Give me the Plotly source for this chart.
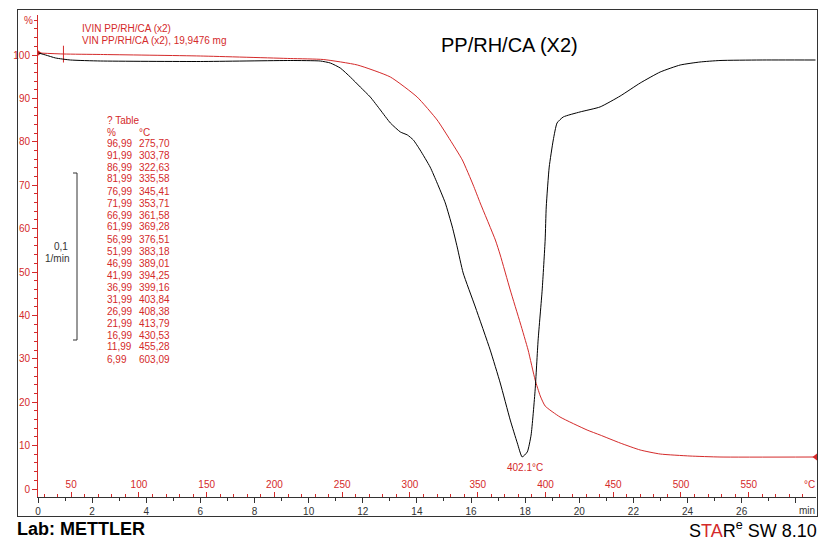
import plotly.graph_objects as go

# ---------------- data ----------------
# TGA curve: time (min) vs mass (%)
time_tga = [0.02, 0.94, 2.31, 6.00, 9.32, 10.54, 11.80, 13.02, 14.01, 14.75, 15.23, 15.68,
            16.08, 16.34, 16.90, 17.08, 17.45, 17.82, 18.11, 18.37, 18.56, 18.74, 19.29,
            20.29, 20.77, 21.51, 22.25, 22.99, 24.09, 25.20, 28.73]
tga_pct = [100.46, 100.23, 100.12, 99.77, 99.19, 98.96, 97.70, 94.93, 90.32, 85.02, 80.41, 75.81,
           70.05, 65.90, 57.37, 53.92, 45.85, 38.25, 32.03, 25.12, 21.43, 19.12, 16.59,
           13.59, 12.44, 10.60, 8.99, 8.06, 7.60, 7.37, 7.37]

# DTG curve: time (min) vs rate (1/min)
time_dtg = [0.02, 0.28, 0.65, 1.20, 2.31, 6.00, 9.32, 10.43, 10.80, 11.17, 11.54, 11.91, 12.28,
            12.65, 13.02, 13.39, 13.65, 13.87, 14.12, 14.49, 14.75, 15.05, 15.31, 15.49, 15.71,
            16.16, 16.71, 17.08, 17.45, 17.71, 17.89, 18.08, 18.22, 18.37, 18.48, 18.63, 18.74,
            18.78, 18.89, 19.04, 19.18, 19.41, 20.03, 20.77, 21.51, 22.25, 22.99, 23.73, 24.46,
            25.20, 26.68, 28.73]
dtg_rate = [0.0042, 0.0030, 0.0012, 0.0, -0.0006, -0.0009, -0.0003, -0.0006, -0.0018, -0.0048,
            -0.0102, -0.0162, -0.0222, -0.0299, -0.0377, -0.0431, -0.0449, -0.0479, -0.0539,
            -0.0641, -0.0737, -0.0856, -0.1000, -0.1120, -0.1275, -0.1479, -0.1737, -0.1934,
            -0.2156, -0.2293, -0.2377, -0.2347, -0.2246, -0.1976, -0.1677, -0.1377, -0.1078,
            -0.0880, -0.0641, -0.0479, -0.0377, -0.0341, -0.0311, -0.0281, -0.0216, -0.0138,
            -0.0072, -0.0030, -0.0012, -0.0003, 0.0, 0.0]

# "? Table" values
table_pct = ["96,99", "91,99", "86,99", "81,99", "76,99", "71,99", "66,99", "61,99", "56,99",
             "51,99", "46,99", "41,99", "36,99", "31,99", "26,99", "21,99", "16,99", "11,99", "6,99"]
table_temp = ["275,70", "303,78", "322,63", "335,58", "345,41", "353,71", "361,58", "369,28",
              "376,51", "383,18", "389,01", "394,25", "399,16", "403,84", "408,38", "413,79",
              "430,53", "455,28", "603,09"]

time_ticks = [0, 2, 4, 6, 8, 10, 12, 14, 16, 18, 20, 22, 24, 26, 28]
time_tick_text = ["0", "2", "4", "6", "8", "10", "12", "14", "16", "18", "20", "22", "24", "26", " "]
temp_ticks = [50, 100, 150, 200, 250, 300, 350, 400, 450, 500, 550]
pct_ticks = [0, 10, 20, 30, 40, 50, 60, 70, 80, 90, 100]

marker_time = 0.94
marker_pct = 100.2
peak_label = "402.1°C"
title_text = "PP/RH/CA (X2)"
legend_lines = ["IVIN PP/RH/CA (x2)", "VIN PP/RH/CA (x2), 19,9476 mg"]

# ---------------- styling ----------------
RED = "#d42a2a"
FONT = "Liberation Sans, Arial, sans-serif"
W, H = 827, 540
# outer frame (paper area) in pixels
FL, FR, FT, FB = 18, 817, 10, 516
# plot area in pixels
AL, AR, AT, AB = 38, 816, 15, 497


def px(x):
    return (x - FL) / (FR - FL)


def py(y):
    return (FB - y) / (FB - FT)


fig = go.Figure()

# invisible trace for the full-size frame subplot
fig.add_trace(go.Scatter(x=[0.5], y=[0.5], xaxis="x3", yaxis="y3", mode="markers",
                         marker=dict(opacity=0), hoverinfo="skip"))

fig.add_trace(go.Scatter(x=time_dtg, y=dtg_rate, yaxis="y2", mode="lines",
                         line=dict(color="black", width=1, shape="spline", smoothing=0.5),
                         hoverinfo="skip"))
fig.add_trace(go.Scatter(x=time_tga, y=tga_pct, mode="lines",
                         line=dict(color=RED, width=1, shape="spline", smoothing=0.5),
                         hoverinfo="skip"))
# curve start / end markers and the small vertical marker
fig.add_trace(go.Scatter(x=[time_tga[0]], y=[tga_pct[0]], mode="markers",
                         marker=dict(symbol="triangle-right", size=6, color=RED),
                         cliponaxis=False, hoverinfo="skip"))
fig.add_trace(go.Scatter(x=[time_tga[-1]], y=[tga_pct[-1]], mode="markers",
                         marker=dict(symbol="triangle-left", size=6, color=RED),
                         cliponaxis=False, hoverinfo="skip"))
fig.add_trace(go.Scatter(x=[marker_time], y=[marker_pct], mode="markers",
                         marker=dict(symbol="line-ns", size=12, line=dict(color=RED, width=1)),
                         cliponaxis=False, hoverinfo="skip"))
# invisible trace to activate the temperature axis
fig.add_trace(go.Scatter(x=[300], y=[50], xaxis="x2", mode="markers",
                         marker=dict(opacity=0), hoverinfo="skip"))

t_left = 0.0
t_right = (AR - 37.5) / 27.08
temp_left = (37.5 - 2.9) / 1.356
temp_right = (AR - 2.9) / 1.356
pct_bottom = (489 - AB) / 4.34
pct_top = (489 - AT) / 4.34
dtg_bottom = (60 - AB) / 1670
dtg_top = (60 - AT) / 1670

FRAME = "#333333"

fig.update_layout(
    width=W, height=H, autosize=False,
    margin=dict(l=FL, r=W - FR, t=FT, b=H - FB, pad=0, autoexpand=False),
    paper_bgcolor="white", plot_bgcolor="rgba(0,0,0,0)",
    showlegend=False,
    font=dict(family=FONT, size=10, color="black"),
    xaxis=dict(domain=[px(AL), px(AR)], range=[t_left, t_right], showgrid=False, zeroline=False,
               showline=True, linecolor="#333333", linewidth=1,
               ticks="outside", ticklen=5, tickcolor="#333333",
               tickvals=time_ticks, ticktext=time_tick_text,
               tickfont=dict(size=10, color="#333333"),
               minor=dict(ticks="outside", ticklen=3, dtick=1, tick0=0, tickcolor="#333333")),
    xaxis2=dict(range=[temp_left, temp_right], overlaying="x", anchor="free", position=py(AB),
                side="top",
                showgrid=False, zeroline=False, showline=False,
                ticks="outside", ticklen=5, tickcolor=RED,
                tickvals=temp_ticks,
                tickfont=dict(size=10, color=RED),
                minor=dict(ticks="outside", ticklen=3, dtick=10, tick0=0, tickcolor=RED)),
    yaxis=dict(domain=[py(AB), py(AT)], range=[pct_bottom, pct_top], showgrid=False, zeroline=False,
               showline=True, linecolor=RED, linewidth=1,
               ticks="outside", ticklen=5, tickcolor=RED,
               tickvals=pct_ticks, tickfont=dict(size=10, color=RED),
               minor=dict(ticks="outside", ticklen=3, dtick=2, tick0=0, tickcolor=RED)),
    yaxis2=dict(range=[dtg_bottom, dtg_top], overlaying="y", visible=False),
    # frame subplot covering the whole paper area
    xaxis3=dict(domain=[0, 1], anchor="y3", range=[0, 1], showline=True, mirror=True,
                linecolor=FRAME, linewidth=1, showgrid=False, zeroline=False,
                showticklabels=False, ticks=""),
    yaxis3=dict(domain=[0, 1], anchor="x3", range=[0, 1], showline=True, mirror=True,
                linecolor=FRAME, linewidth=1, showgrid=False, zeroline=False,
                showticklabels=False, ticks=""),
)

shapes = [
    # scale bar
    dict(type="path", xref="paper", yref="paper",
         path=f"M {px(73)},{py(173)} L {px(77)},{py(173)} L {px(77)},{py(340)} L {px(73)},{py(340)}",
         line=dict(color="#333333", width=1)),
]
fig.update_layout(shapes=shapes)

ann = []


def text(x, y, s, size=10, color="black", xanchor="left", bold=False):
    ann.append(dict(x=px(x), y=py(y), xref="paper", yref="paper", text=s, showarrow=False,
                    xanchor=xanchor, yanchor="middle",
                    font=dict(family=FONT, size=size, color=color,
                              weight="bold" if bold else "normal")))


text(22, 20, "%", 10, RED)
text(80, 28, legend_lines[0], 10, RED)
text(80, 41, legend_lines[1], 10, RED)
text(510, 45, title_text, 20, "black", "center")
text(105, 121, "? Table", 10, RED)
text(105, 132, "%", 10, RED)
text(137, 132, "°C", 10, RED)
for i, (p, tval) in enumerate(zip(table_pct, table_temp)):
    yy = 143 + 12 * i
    text(105, yy, p, 10, RED)
    text(137, yy, tval, 10, RED)
text(70, 246, "0,1", 10, "#333333", "right")
text(71, 258, "1/min", 10, "#333333", "right")
text(525, 467, peak_label, 10, RED, "center")
text(817, 484, "°C", 10, RED, "right")
text(817, 510, "min", 10, "#333333", "right")
text(15, 529, "Lab: METTLER", 18, "black", "left", bold=True)
text(819, 529, f"S<span style='color:{RED}'>TA</span>R<sup>e</sup> SW 8.10", 18, "black", "right")

fig.update_layout(annotations=ann)

fig.write_html("out.html", post_script="document.body.style.margin='0px';",
               config={"displayModeBar": False})
